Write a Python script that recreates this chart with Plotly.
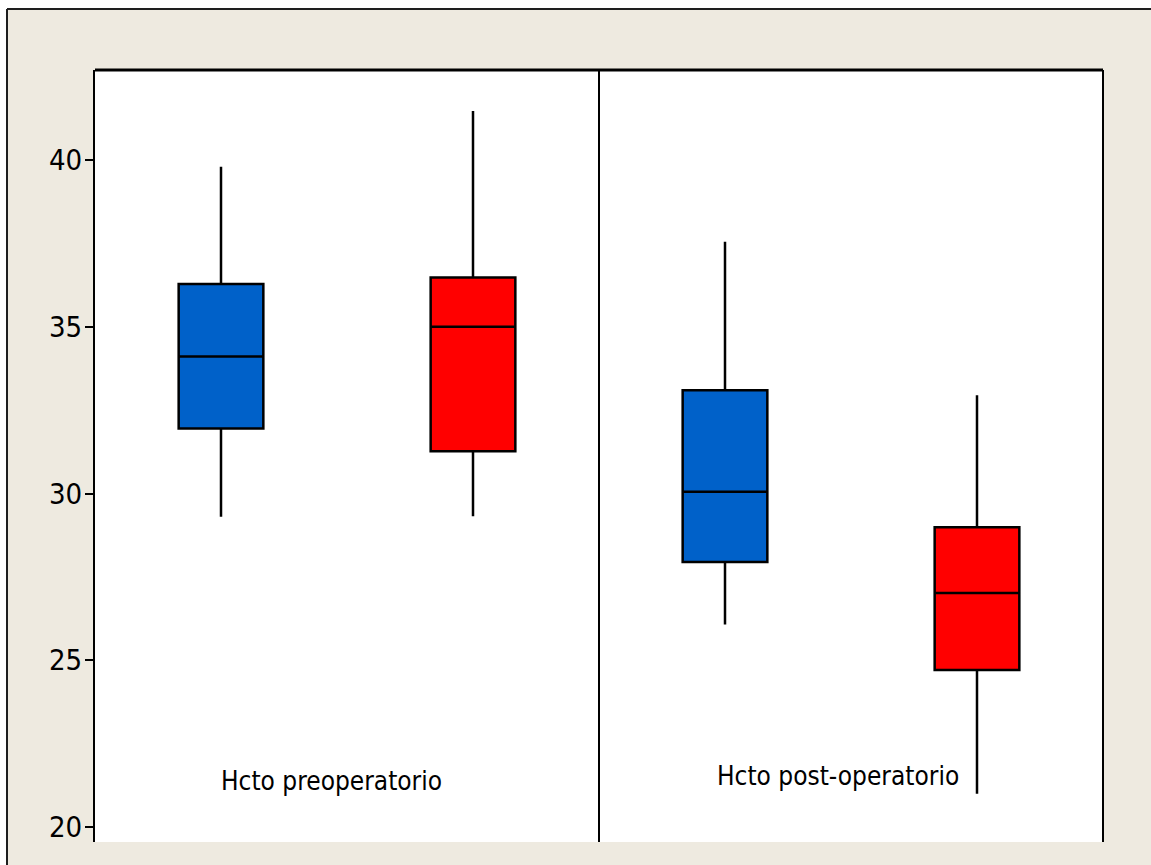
import plotly.graph_objects as go

# Hematocrit summary statistics per group
blue_x = [1, 3]
red_x = [2, 4]

blue_low = [29.3, 26.07]
blue_q1 = [31.95, 27.95]
blue_med = [34.11, 30.05]
blue_q3 = [36.28, 33.10]
blue_high = [39.8, 37.55]

red_low = [29.32, 21.0]
red_q1 = [31.27, 24.71]
red_med = [35.0, 27.02]
red_q3 = [36.48, 28.99]
red_high = [41.47, 32.95]

panel_labels = ["Hcto preoperatorio", "Hcto post-operatorio"]
panel_label_x = [1.437, 3.448]
panel_label_y = [21.37, 21.52]

y_ticks = [20, 25, 30, 35, 40]

FONT = "Liberation Sans Narrow, Arial Narrow, DejaVu Sans Condensed, sans-serif"
BEIGE = "#EEEAE0"

W, H = 1151, 865
ML, MR, MT, MB = 95, 48, 70, 23
PW, PH = W - ML - MR, H - MT - MB


def px_x(p):
    return (p - ML) / PW


def px_y(p):
    return 1 - (p - MT) / PH


fig = go.Figure()

box_style = dict(line=dict(color="black", width=2.5), whiskerwidth=0,
                 width=0.336, boxpoints=False, showlegend=False, hoverinfo="skip")

fig.add_trace(go.Box(x=blue_x, lowerfence=blue_low, q1=blue_q1, median=blue_med,
                     q3=blue_q3, upperfence=blue_high, fillcolor="#0061C9",
                     **box_style))
fig.add_trace(go.Box(x=red_x, lowerfence=red_low, q1=red_q1, median=red_med,
                     q3=red_q3, upperfence=red_high, fillcolor="#FF0000",
                     **box_style))

for txt, lx, ly in zip(panel_labels, panel_label_x, panel_label_y):
    fig.add_annotation(x=lx, y=ly, xref="x", yref="y", text=txt, showarrow=False,
                       font=dict(family=FONT, size=26, color="black"))

shapes = []
# white margin outside the outer frame
shapes.append(dict(type="rect", xref="paper", yref="paper", x0=px_x(-5), x1=px_x(W + 5),
                   y0=px_y(9), y1=px_y(-5), fillcolor="white", line=dict(width=0),
                   layer="below"))
shapes.append(dict(type="rect", xref="paper", yref="paper", x0=px_x(-5), x1=px_x(7),
                   y0=px_y(H + 5), y1=px_y(-5), fillcolor="white", line=dict(width=0),
                   layer="below"))
# outer frame lines
shapes.append(dict(type="line", xref="paper", yref="paper", x0=px_x(7), x1=px_x(W + 5),
                   y0=px_y(9), y1=px_y(9), line=dict(color="#1e1e1e", width=2)))
shapes.append(dict(type="line", xref="paper", yref="paper", x0=px_x(7), x1=px_x(7),
                   y0=px_y(9), y1=px_y(H + 5), line=dict(color="#1e1e1e", width=2)))
# plot frame: top, right and the panel divider
shapes.append(dict(type="line", xref="paper", yref="paper", x0=0, x1=1, y0=1, y1=1,
                   line=dict(color="black", width=3)))
shapes.append(dict(type="line", xref="paper", yref="paper", x0=1, x1=1, y0=0, y1=1,
                   line=dict(color="black", width=2)))
shapes.append(dict(type="line", xref="x", yref="paper", x0=2.5, x1=2.5, y0=0, y1=1,
                   line=dict(color="black", width=2)))

fig.update_layout(
    width=W, height=H,
    margin=dict(l=ML, r=MR, t=MT, b=MB, pad=0),
    paper_bgcolor=BEIGE, plot_bgcolor="white",
    boxmode="overlay",
    shapes=shapes,
    xaxis=dict(range=[0.5, 4.5], showticklabels=False, ticks="", showgrid=False,
               zeroline=False, showline=False, fixedrange=True),
    yaxis=dict(range=[19.55, 42.7], tickvals=y_ticks, ticks="outside", ticklen=8,
               tickwidth=2, tickcolor="black", showgrid=False, zeroline=False,
               showline=True, linecolor="black", linewidth=2,
               tickfont=dict(family=FONT, size=29, color="black"),
               ticklabelstandoff=-3, fixedrange=True),
)

fig.write_html("out.html")
